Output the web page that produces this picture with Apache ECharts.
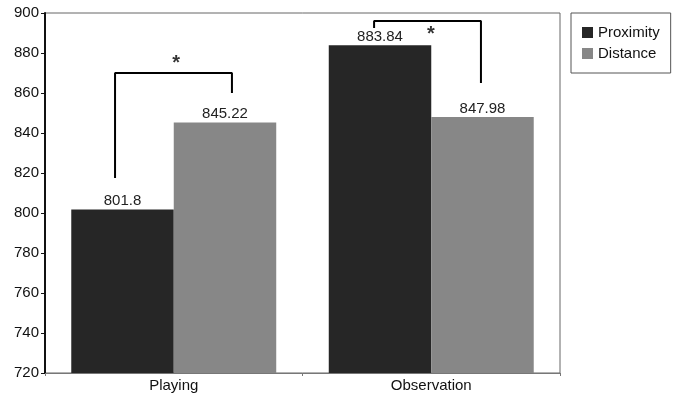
<!DOCTYPE html>
<html style="height: 100%;">
<head>
<meta charset="utf-8">
<title>Proximity vs Distance</title>
<script src="https://cdn.jsdelivr.net/npm/echarts@6/dist/echarts.min.js"></script>
</head>
<body style="margin: 0; height: 100%; background: #fff;">
<div id="main" style="width: 683px; height: 404px;"></div>
<script>
// data
var categories = ['Playing', 'Observation'];
var proximity = [801.8, 883.84];
var distance = [845.22, 847.98];
var yTicks = [720, 900, 20];   // min, max, step

// significance brackets, x in [0,2] along the category band, y in data units
var bracketPlaying = [[0.272, 817.5], [0.272, 870], [0.726, 870], [0.726, 860]];
var bracketObservation = [[1.278, 892.5], [1.278, 896], [1.693, 896], [1.693, 865]];
var stars = [[0.509, 875], [1.499, 889.5]];

var font = 'Liberation Sans';

var chart = echarts.init(document.getElementById('main'));
chart.setOption({
    animation: false,
    textStyle: { fontFamily: font },
    grid: {
        left: 45, right: 123, top: 13, bottom: 31,
        show: true, borderColor: '#666', borderWidth: 1
    },
    legend: {
        data: ['Proximity', 'Distance'],
        orient: 'vertical',
        left: 571, top: 13,
        padding: [12, 11, 12, 11],
        itemWidth: 11, itemHeight: 11, itemGap: 6,
        icon: 'rect',
        borderColor: '#555', borderWidth: 1,
        textStyle: { fontFamily: font, fontSize: 15, color: '#111' }
    },
    xAxis: [{
        type: 'category',
        data: categories,
        axisLine: { lineStyle: { color: '#777', width: 1 } },
        axisTick: { show: true, length: 3, lineStyle: { color: '#777' } },
        axisLabel: { fontSize: 15, color: '#111', margin: 5 }
    }, {
        type: 'value', min: 0, max: 2, show: false
    }],
    yAxis: {
        type: 'value',
        min: yTicks[0], max: yTicks[1], interval: yTicks[2],
        axisLine: { show: true, lineStyle: { color: '#111', width: 2 } },
        axisTick: { show: true, length: 4, lineStyle: { color: '#111' } },
        axisLabel: { fontSize: 15, color: '#111', margin: 6 },
        splitLine: { show: false }
    },
    series: [{
        name: 'Proximity',
        type: 'bar',
        data: proximity,
        barGap: '0%',
        barCategoryGap: '20.4%',
        itemStyle: { color: '#262626' },
        label: { show: true, position: 'top', distance: 1, fontSize: 15, color: '#222' }
    }, {
        name: 'Distance',
        type: 'bar',
        data: distance,
        itemStyle: { color: '#878787' },
        label: { show: true, position: 'top', distance: 1, fontSize: 15, color: '#222' }
    }, {
        type: 'line', xAxisIndex: 1, data: bracketPlaying,
        symbol: 'none', lineStyle: { color: '#000', width: 2 }, z: 5
    }, {
        type: 'line', xAxisIndex: 1, data: bracketObservation,
        symbol: 'none', lineStyle: { color: '#000', width: 2 }, z: 1
    }, {
        type: 'scatter', xAxisIndex: 1, data: stars,
        symbolSize: 1, itemStyle: { color: 'rgba(0,0,0,0)' },
        label: { show: true, position: 'inside', formatter: '*', fontSize: 20, fontWeight: 'bold', color: '#000' }
    }]
});
</script>
</body>
</html>
